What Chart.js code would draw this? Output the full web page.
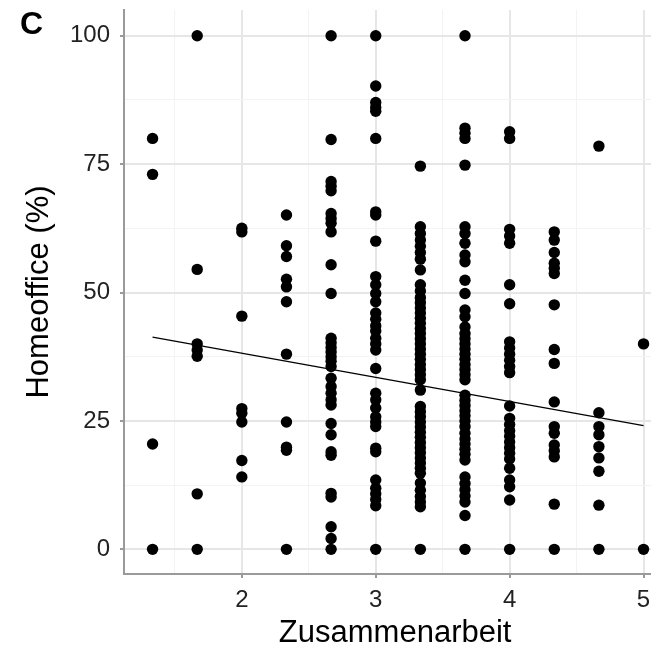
<!DOCTYPE html>
<html>
<head>
<meta charset="utf-8">
<script src="https://cdn.jsdelivr.net/npm/chart.js@4.4.1/dist/chart.umd.min.js"></script>
<style>
  html, body { margin: 0; padding: 0; overflow: hidden; background: #fff; }
  #wrap { width: 672px; height: 649px; }
</style>
</head>
<body>
<div id="wrap"><canvas id="myChart" width="672" height="649"></canvas></div>
<script>
// x positions of the answer columns (Zusammenarbeit scale means)
const xLevels = [4/3, 5/3, 2, 7/3, 8/3, 3, 10/3, 11/3, 4, 13/3, 14/3, 5];

// Homeoffice (%) per column
const col1 = [80, 73, 20.5, 0];
const col2 = [100, 54.5, 40, 38.8, 37.6, 10.8, 0];
const col3 = [62.5, 61.8, 45.4, 27.4, 26.5, 24.8, 17.3, 14.1];
const col4 = [65.1, 59.1, 57, 52.6, 51.1, 48.2, 38, 24.8, 19.9, 19.3, 0];
const col5 = [100, 79.8, 71.6, 70.7, 69.8, 65.4, 64.4, 63.5, 61.8, 55.4, 49.8, 41.1, 40.2, 39.3, 38.4,
  37.5, 36.6, 35.6, 33.3, 31.7, 30.4, 29.1, 28.1, 24.5, 22.3, 19, 18.3, 10.9, 10.2, 4.4, 2.1, 0];
const col6 = [100, 90.2, 87, 86, 85.3, 80, 65.7, 65.1, 60, 53.1, 51.5, 49.8, 48.2, 46, 44.8, 43.5, 42.5,
  41.1, 40, 38.8, 35.2, 30.4, 29.1, 27.5, 25.8, 24.8, 23.9, 19.7, 19, 13.5, 11.9, 10.8, 9.7, 8.5, 0];
const col7 = [74.6, 62.8, 61.5, 60.2, 59, 57.8, 56.5, 54.4, 51.5, 50.3, 49, 48, 47, 46, 45, 44, 43, 42,
  41, 40, 39, 38, 37, 36, 35, 34, 33, 31, 27.8, 26.8, 25.8, 24.8, 23.8, 22.8, 21.8, 20.8, 19.8, 18.8,
  17.8, 16.8, 15.8, 14.8, 12.9, 11.5, 10.3, 9.2, 8.3, 0];
const col8 = [100, 82, 81, 80, 74.8, 62.8, 61.5, 59.6, 57.3, 56, 52.4, 49.8, 46.6, 45.3, 43.3, 42, 41, 40,
  39, 38, 37, 36, 35, 34, 33, 30, 29, 28, 27, 26, 25, 23.9, 22.6, 21.5, 20.5, 19.5, 18.5, 17.4,
  14.1, 12.8, 11.6, 10.4, 9.2, 6.6, 0];
const col9 = [81.3, 80, 62.3, 61, 59.6, 51.5, 47.8, 40.4, 39.2, 38, 36.8, 35.6, 34.4, 27.9, 25.5, 24.3,
  23.1, 22, 20.9, 19.8, 18.7, 17.6, 15.8, 13.5, 12.2, 9.6, 0];
const col10 = [61.8, 60.2, 57.8, 55.7, 54.7, 53.7, 47.6, 38.9, 36.2, 28.7, 23.9, 22.6, 20.3, 19.2, 18, 8.8, 0];
const col11 = [78.5, 26.6, 23.9, 22.3, 20, 17.8, 15.2, 8.6, 0];
const col12 = [40, 0];

const columns = [col1, col2, col3, col4, col5, col6, col7, col8, col9, col10, col11, col12];

// fitted regression line (end points)
const fitX = [4/3, 5];
const fitY = [41.3, 24.1];

const xTicks = [1.5, 2, 2.5, 3, 3.5, 4, 4.5, 5];
const yTicks = [0, 12.5, 25, 37.5, 50, 62.5, 75, 87.5, 100];

const points = [];
columns.forEach((col, i) => {
  col.forEach(v => points.push({x: xLevels[i], y: v}));
});

const isMajorX = v => Number.isInteger(v);
const isMajorY = v => v % 25 === 0;

const letterC = {
  id: "letterC",
  afterDraw(chart) {
    const ctx = chart.ctx;
    ctx.save();
    ctx.font = "bold 32px 'Liberation Sans', Arial, sans-serif";
    ctx.fillStyle = "#000";
    ctx.textBaseline = "alphabetic";
    ctx.fillText("C", 20, 34);
    ctx.restore();
  }
};

const tickFont = {family: "'Liberation Sans', Arial, sans-serif", size: 24};

const chart = new Chart("myChart", {
  type: "scatter",
  data: {
    datasets: [{
      data: points,
      backgroundColor: "#000",
      borderWidth: 0,
      pointRadius: 5.7,
      pointHoverRadius: 5.7
    }, {
      data: fitX.map((x, i) => ({x: x, y: fitY[i]})),
      showLine: true,
      borderColor: "#000",
      borderWidth: 1.3,
      pointRadius: 0,
      fill: false
    }]
  },
  options: {
    responsive: false,
    animation: false,
    layout: {padding: {top: 10, left: 0, right: 0, bottom: 0}},
    plugins: {legend: {display: false}, tooltip: {enabled: false}},
    scales: {
      x: {
        type: "linear",
        min: 1.12,
        max: 5.17,
        afterBuildTicks: s => { s.ticks = xTicks.map(v => ({value: v})); },
        afterFit: s => { s.height = 75; s.paddingLeft = 0; s.paddingRight = 0; },
        ticks: {
          autoSkip: false,
          maxRotation: 0,
          padding: 8,
          color: "#222",
          font: tickFont,
          callback: v => isMajorX(v) ? String(v) : ""
        },
        grid: {
          color: c => isMajorX(c.tick.value) ? "#e6e6e6" : "#f3f3f3",
          lineWidth: c => isMajorX(c.tick.value) ? 2 : 1,
          tickLength: 4,
          tickColor: c => isMajorX(c.tick.value) ? "#999" : "rgba(0,0,0,0)"
        },
        border: {display: true, color: "#9a9a9a", width: 2},
        title: {
          display: true,
          text: "Zusammenarbeit",
          color: "#000",
          font: {family: "'Liberation Sans', Arial, sans-serif", size: 31},
          padding: {top: 0, bottom: -3}
        }
      },
      y: {
        min: -4.8,
        max: 105,
        afterBuildTicks: s => { s.ticks = yTicks.map(v => ({value: v})); },
        afterFit: s => { s.width = 124; s.paddingTop = 0; s.paddingBottom = 0; },
        ticks: {
          autoSkip: false,
          padding: 10,
          color: "#222",
          font: tickFont,
          callback: v => isMajorY(v) ? String(v) : ""
        },
        grid: {
          color: c => isMajorY(c.tick.value) ? "#e6e6e6" : "#f3f3f3",
          lineWidth: c => isMajorY(c.tick.value) ? 2 : 1,
          tickLength: 4,
          tickColor: c => isMajorY(c.tick.value) ? "#999" : "rgba(0,0,0,0)"
        },
        border: {display: true, color: "#9a9a9a", width: 2},
        title: {
          display: true,
          text: "Homeoffice (%)",
          color: "#000",
          font: {family: "'Liberation Sans', Arial, sans-serif", size: 31},
          padding: {top: 21, bottom: 0}
        }
      }
    }
  },
  plugins: [letterC]
});
</script>
</body>
</html>
